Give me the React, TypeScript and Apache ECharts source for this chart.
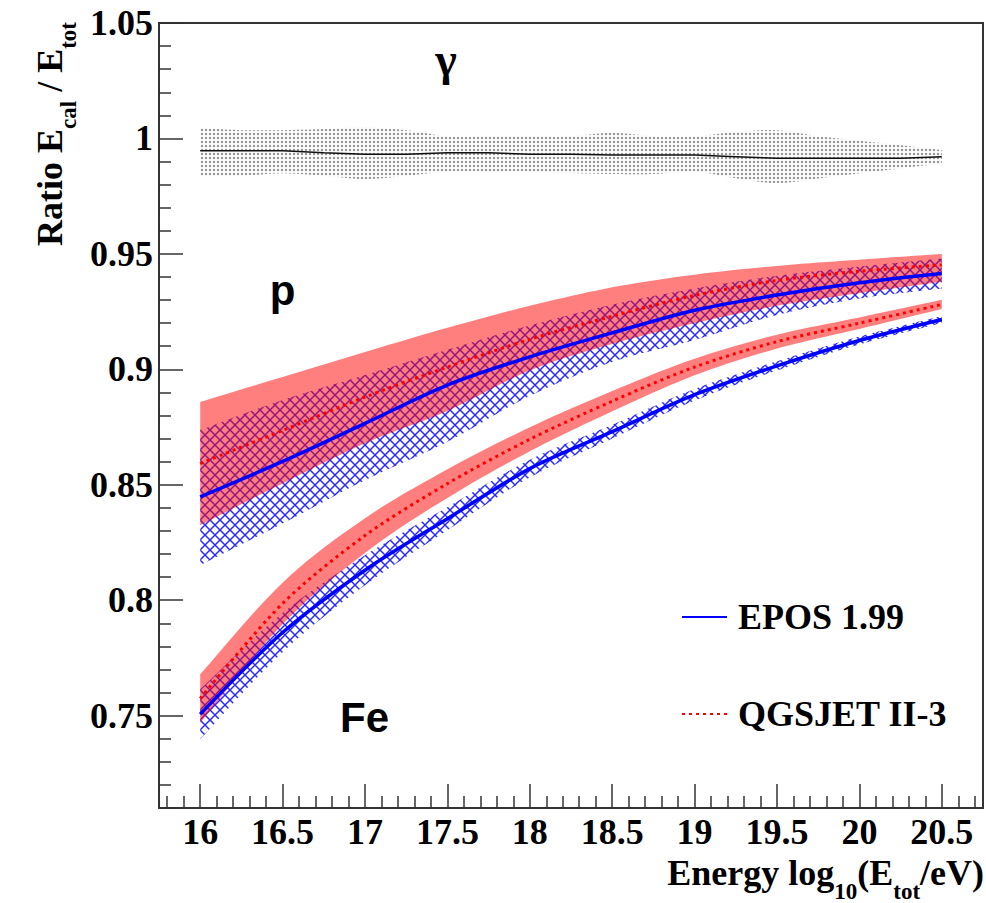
import React, { useEffect, useRef } from 'react';
import * as echarts from 'echarts';

// ---------- data ----------
const energy = [16, 16.5, 17, 17.5, 18, 18.5, 19, 19.5, 20, 20.5];

// proton, EPOS 1.99
const eposP = [0.8448, 0.8601, 0.8766, 0.8932, 0.9054, 0.9158, 0.9256, 0.9322, 0.9375, 0.9415];
const eposPUp = [0.8737, 0.8867, 0.8975, 0.9085, 0.919, 0.928, 0.935, 0.9405, 0.9445, 0.948];
const eposPLo = [0.8152, 0.8332, 0.852, 0.8686, 0.8885, 0.9032, 0.9127, 0.9235, 0.9307, 0.935];

// proton, QGSJET II-3
const qgsP = [0.8592, 0.8735, 0.888, 0.901, 0.913, 0.923, 0.932, 0.9385, 0.9425, 0.9452];
const qgsPUp = [0.8859, 0.8967, 0.9075, 0.918, 0.9275, 0.9355, 0.941, 0.9448, 0.9475, 0.95];
const qgsPLo = [0.8325, 0.8506, 0.868, 0.882, 0.8995, 0.911, 0.92, 0.9275, 0.933, 0.9379];

// iron, EPOS 1.99
const eposFe = [0.7506, 0.786, 0.813, 0.8353, 0.857, 0.873, 0.889, 0.9015, 0.9125, 0.9216];
const eposFeUp = [0.7614, 0.7945, 0.8195, 0.8403, 0.8608, 0.876, 0.8915, 0.9035, 0.9142, 0.9231];
const eposFeLo = [0.7398, 0.7775, 0.8065, 0.8303, 0.8532, 0.87, 0.8865, 0.8995, 0.9108, 0.9201];

// iron, QGSJET II-3
const qgsFe = [0.7574, 0.7986, 0.828, 0.8505, 0.8697, 0.8862, 0.901, 0.912, 0.92, 0.9281];
const qgsFeUp = [0.7679, 0.8076, 0.8355, 0.8567, 0.8749, 0.8906, 0.9046, 0.915, 0.9225, 0.9301];
const qgsFeLo = [0.7469, 0.7896, 0.8205, 0.8443, 0.8645, 0.8818, 0.8974, 0.909, 0.9175, 0.9261];

// photons
const gammaE = [16, 16.25, 16.5, 16.75, 17, 17.25, 17.5, 17.75, 18, 18.25, 18.5, 18.75, 19, 19.25, 19.5, 19.75, 20, 20.25, 20.5];
const gammaLine = [0.9947, 0.9947, 0.9947, 0.9938, 0.9932, 0.9932, 0.9938, 0.9938, 0.9932, 0.9932, 0.9928, 0.9928, 0.9928, 0.9921, 0.9914, 0.9914, 0.9914, 0.9914, 0.9921];
const gammaUp = [1.0046, 1.0036, 1.0036, 1.0041, 1.0049, 1.0036, 1.001, 1.001, 1.001, 1.001, 1.0025, 1.001, 1.001, 1.0028, 1.0036, 1.001, 0.999, 0.9971, 0.995];
const gammaLo = [0.9838, 0.9838, 0.9849, 0.9838, 0.9824, 0.9838, 0.9856, 0.9856, 0.9856, 0.985, 0.9846, 0.9846, 0.9856, 0.9828, 0.9806, 0.9827, 0.9849, 0.987, 0.9892];

// ticks
const xMajor = [16, 16.5, 17, 17.5, 18, 18.5, 19, 19.5, 20, 20.5];
const yMajor = [0.75, 0.8, 0.85, 0.9, 0.95, 1, 1.05];
const X_MIN = 15.75;
const X_MAX = 20.75;
const Y_MIN = 0.71;
const Y_MAX = 1.05;

const xMinor: number[] = [];
for (let i = 158; i <= 207; i++) {
  if (i % 5 !== 0) xMinor.push(i / 10);
}
const yMinor: number[] = [];
for (let i = 71; i <= 105; i++) {
  if (i % 5 !== 0) yMinor.push(i / 100);
}

// ---------- styles ----------
const SERIF = '"Liberation Serif", "Times New Roman", serif';
const SANS = '"Liberation Sans", Arial, sans-serif';

const svgUrl = (s: string) => 'data:image/svg+xml;charset=utf-8,' + encodeURIComponent(s);

const crossHatch: any = {
  image: svgUrl(
    '<svg xmlns="http://www.w3.org/2000/svg" width="10" height="10"><path d="M0 0L10 10M10 0L0 10" stroke="#2a2aff" stroke-width="1.5" fill="none"/></svg>'
  ),
  repeat: 'repeat',
  imageWidth: 10,
  imageHeight: 10,
};
const grayDots: any = {
  image: svgUrl(
    '<svg xmlns="http://www.w3.org/2000/svg" width="4" height="4"><circle cx="2" cy="2" r="1.25" fill="#989898"/></svg>'
  ),
  repeat: 'repeat',
  imageWidth: 4,
  imageHeight: 4,
};
const redFill = 'rgba(255,0,0,0.5)';

// Catmull-Rom smoothing of a pixel polyline (rendering only)
function smoothPath(pts: number[][], seg: number): number[][] {
  if (seg <= 1 || pts.length < 3) return pts;
  const out: number[][] = [];
  const n = pts.length;
  for (let i = 0; i < n - 1; i++) {
    const p0 = pts[Math.max(i - 1, 0)];
    const p1 = pts[i];
    const p2 = pts[i + 1];
    const p3 = pts[Math.min(i + 2, n - 1)];
    for (let k = 0; k < seg; k++) {
      const t = k / seg;
      const t2 = t * t;
      const t3 = t2 * t;
      const f = (a: number, b: number, c: number, d: number) =>
        0.5 * (2 * b + (-a + c) * t + (2 * a - 5 * b + 4 * c - d) * t2 + (-a + 3 * b - 3 * c + d) * t3);
      out.push([f(p0[0], p1[0], p2[0], p3[0]), f(p0[1], p1[1], p2[1], p3[1])]);
    }
  }
  out.push(pts[n - 1]);
  return out;
}

function band(name: string, xs: number[], up: number[], lo: number[], fill: any, seg: number) {
  return {
    type: 'custom',
    name,
    silent: true,
    xAxisIndex: 0,
    yAxisIndex: 0,
    data: [[xs[0], lo[0]]],
    encode: { x: 0, y: 1 },
    renderItem: (params: any, api: any) => {
      const top = smoothPath(xs.map((x, i) => api.coord([x, up[i]])), seg);
      const bot = smoothPath(xs.map((x, i) => api.coord([x, lo[i]])), seg).reverse();
      return {
        type: 'polygon',
        shape: { points: top.concat(bot) },
        style: { fill, stroke: 'none' },
      };
    },
  };
}

function line(name: string, xs: number[], ys: number[], color: string, width: number, type: any, smooth: any) {
  return {
    type: 'line',
    name,
    silent: true,
    symbol: 'none',
    showSymbol: false,
    smooth,
    data: xs.map((x, i) => [x, ys[i]]),
    lineStyle: { color, width, type },
    itemStyle: { color },
  };
}

export default function App() {
  const ref = useRef<HTMLDivElement>(null);

  useEffect(() => {
    if (!ref.current) return;
    const chart = echarts.init(ref.current, null, { renderer: 'svg' });
    const gridLeft = 159;
    const gridRight = 3;
    const gridTop = 23;
    const gridBottom = 95;
    const gridW = 986 - gridLeft - gridRight;
    const gridH = 903 - gridTop - gridBottom;

    const labelStyle = {
      fontFamily: SERIF,
      fontWeight: 'bold' as const,
      fontSize: 36,
      color: '#000',
    };
    const richTitle = {
      m: { fontFamily: SERIF, fontWeight: 'bold', fontSize: 36, lineHeight: 60, verticalAlign: 'middle', fill: '#000' },
      s: { fontFamily: SERIF, fontWeight: 'bold', fontSize: 23, lineHeight: 22, verticalAlign: 'bottom', fill: '#000' },
    };

    const option: any = {
      animation: false,
      backgroundColor: '#fff',
      grid: {
        left: gridLeft,
        right: gridRight,
        top: gridTop,
        bottom: gridBottom,
        show: true,
        borderColor: '#333',
        borderWidth: 2,
        backgroundColor: 'transparent',
      },
      xAxis: [
        {
          type: 'value',
          min: X_MIN,
          max: X_MAX,
          position: 'bottom',
          axisLine: { show: true, lineStyle: { color: '#333', width: 2 } },
          axisTick: { show: true, inside: true, length: 24, customValues: xMajor, lineStyle: { color: '#333', width: 1.5 } },
          axisLabel: { ...labelStyle, margin: 6, lineHeight: 36, customValues: xMajor },
          splitLine: { show: false },
        },
        {
          type: 'value',
          min: X_MIN,
          max: X_MAX,
          position: 'top',
          offset: -gridH,
          axisLine: { show: false },
          axisTick: { show: true, inside: false, length: 12, customValues: xMinor, lineStyle: { color: '#333', width: 1.5 } },
          axisLabel: { show: false },
          splitLine: { show: false },
        },
      ],
      yAxis: [
        {
          type: 'value',
          min: Y_MIN,
          max: Y_MAX,
          position: 'left',
          axisLine: { show: true, lineStyle: { color: '#333', width: 2 } },
          axisTick: { show: true, inside: true, length: 24, customValues: yMajor, lineStyle: { color: '#333', width: 1.5 } },
          axisLabel: { ...labelStyle, margin: 6, customValues: yMajor },
          splitLine: { show: false },
        },
        {
          type: 'value',
          min: Y_MIN,
          max: Y_MAX,
          position: 'right',
          offset: -gridW,
          axisLine: { show: false },
          axisTick: { show: true, inside: false, length: 12, customValues: yMinor, lineStyle: { color: '#333', width: 1.5 } },
          axisLabel: { show: false },
          splitLine: { show: false },
        },
      ],
      legend: {
        data: ['EPOS 1.99', 'QGSJET II-3'],
        orient: 'vertical',
        left: 676,
        top: 594,
        itemGap: 61,
        itemWidth: 45,
        itemHeight: 14,
        selectedMode: false,
        itemStyle: { opacity: 0, color: 'transparent', borderWidth: 0 },
        textStyle: { ...labelStyle, lineHeight: 36, padding: [0, 0, 0, 6] },
      },
      graphic: [
        {
          type: 'text',
          x: 50,
          y: 22,
          rotation: Math.PI / 2,
          style: {
            text: '{m|Ratio E}{s|cal}{m| / E}{s|tot}',
            align: 'right',
            verticalAlign: 'middle',
            fill: '#000',
            rich: richTitle,
          },
        },
        {
          type: 'text',
          x: 984,
          y: 873,
          style: {
            text: '{m|Energy log}{s|10}{m|(E}{s|tot}{m|/eV)}',
            align: 'right',
            verticalAlign: 'middle',
            fill: '#000',
            rich: richTitle,
          },
        },
        {
          type: 'text',
          x: 446,
          y: 59,
          style: { text: 'γ', fontFamily: SERIF, fontWeight: 'bold', fontSize: 46, align: 'center', verticalAlign: 'middle', fill: '#000' },
        },
        {
          type: 'text',
          x: 282.5,
          y: 290,
          style: { text: 'p', fontFamily: SANS, fontWeight: 'bold', fontSize: 42, align: 'center', verticalAlign: 'middle', fill: '#000' },
        },
        {
          type: 'text',
          x: 364.5,
          y: 717,
          style: { text: 'Fe', fontFamily: SANS, fontWeight: 'bold', fontSize: 42, align: 'center', verticalAlign: 'middle', fill: '#000' },
        },
      ],
      series: [
        band('gamma band', gammaE, gammaUp, gammaLo, grayDots, 6),
        line('gamma', gammaE, gammaLine, '#111', 1.5, 'solid', false),
        band('EPOS p band', energy, eposPUp, eposPLo, crossHatch, 10),
        band('EPOS Fe band', energy, eposFeUp, eposFeLo, crossHatch, 10),
        band('QGSJET p band', energy, qgsPUp, qgsPLo, redFill, 10),
        band('QGSJET Fe band', energy, qgsFeUp, qgsFeLo, redFill, 10),
        line('EPOS 1.99', energy, eposP, '#0000ff', 3.5, 'solid', 0.3),
        line('EPOS 1.99', energy, eposFe, '#0000ff', 3.5, 'solid', 0.3),
        line('QGSJET II-3', energy, qgsP, '#ff0000', 3, [3, 4], 0.3),
        line('QGSJET II-3', energy, qgsFe, '#ff0000', 3, [3, 4], 0.3),
      ],
    };
    chart.setOption(option);
    return () => chart.dispose();
  }, []);

  return (
    <div
      ref={ref}
      style={{ position: 'fixed', left: 0, top: 0, width: 986, height: 903, background: '#fff' }}
    />
  );
}
